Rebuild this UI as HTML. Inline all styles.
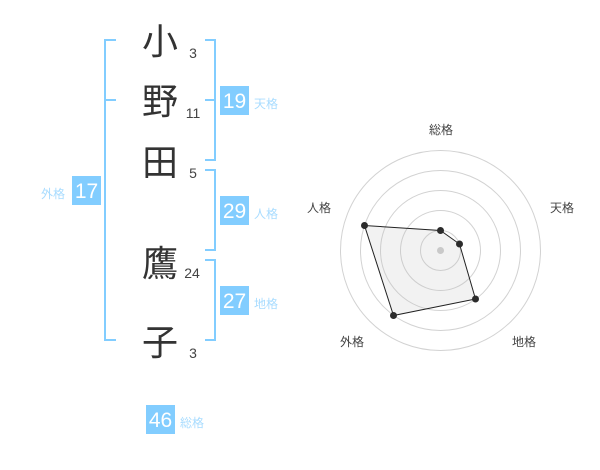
<!DOCTYPE html>
<html><head><meta charset="utf-8">
<style>
html,body{margin:0;padding:0;background:#fff;}
#p{position:relative;width:600px;height:470px;overflow:hidden;background:#fff;font-family:"Liberation Sans","Noto Sans CJK JP",sans-serif;}
.k{position:absolute;left:142px;width:36px;height:36px;font-size:36px;line-height:36px;text-align:center;color:#333;font-family:"Noto Sans CJK JP",sans-serif;}
.n{position:absolute;width:30px;text-align:center;font-size:14px;line-height:16px;color:#444;}
.b{position:absolute;width:29px;height:29px;background:#82cdff;color:#fff;font-size:21px;line-height:31px;text-align:center;}
.l{position:absolute;font-size:12px;line-height:14px;color:#a8dcff;font-family:"Liberation Sans","Noto Sans CJK JP",sans-serif;white-space:nowrap;}
svg{position:absolute;left:0;top:0;}
svg text{font-family:"Liberation Sans","Noto Sans CJK JP",sans-serif;font-size:12px;fill:#444;text-anchor:middle;}
</style></head><body><div id="p">
<svg width="600" height="470" viewBox="0 0 600 470">
<g fill="none" stroke="#82cdff" stroke-width="2">
<path d="M116 40H105V340H116M105 100H116"/>
<path d="M205 40H215V160H205M205 100H215"/>
<path d="M205 170H215V250H205"/>
<path d="M205 260H215V340H205"/>
</g>
<g fill="none" stroke="#d2d2d2" stroke-width="1">
<circle cx="440.5" cy="250.5" r="20"/>
<circle cx="440.5" cy="250.5" r="40"/>
<circle cx="440.5" cy="250.5" r="60"/>
<circle cx="440.5" cy="250.5" r="80"/>
<circle cx="440.5" cy="250.5" r="100"/>
</g>
<circle cx="440.5" cy="250.5" r="3.5" fill="#ccc"/>
<polygon points="440.5,230.5 459.5,244 475.5,299 393.5,315.5 364.5,225.5" fill="rgba(190,190,190,.2)" stroke="#222" stroke-width="1"/>
<g fill="#2b2b2b">
<circle cx="440.5" cy="230.5" r="3.5"/>
<circle cx="459.5" cy="244" r="3.5"/>
<circle cx="475.5" cy="299" r="3.5"/>
<circle cx="393.5" cy="315.5" r="3.5"/>
<circle cx="364.5" cy="225.5" r="3.5"/>
</g>
<text x="441" y="134">総格</text>
<text x="562" y="212">天格</text>
<text x="524" y="346">地格</text>
<text x="352" y="346">外格</text>
<text x="319" y="212">人格</text>
</svg>
<div class="k" style="top:21px">小</div>
<div class="k" style="top:81px">野</div>
<div class="k" style="top:142px">田</div>
<div class="k" style="top:243px">鷹</div>
<div class="k" style="top:322px">子</div>
<div class="n" style="left:178px;top:45px">3</div>
<div class="n" style="left:178px;top:105px">11</div>
<div class="n" style="left:178px;top:165px">5</div>
<div class="n" style="left:177px;top:265px">24</div>
<div class="n" style="left:178px;top:345px">3</div>
<div class="b" style="left:220px;top:86px">19</div>
<div class="b" style="left:220px;top:196px">29</div>
<div class="b" style="left:220px;top:286px">27</div>
<div class="b" style="left:72px;top:176px">17</div>
<div class="b" style="left:146px;top:405px">46</div>
<div class="l" style="left:254px;top:97px">天格</div>
<div class="l" style="left:254px;top:207px">人格</div>
<div class="l" style="left:254px;top:297px">地格</div>
<div class="l" style="left:41px;top:187px">外格</div>
<div class="l" style="left:180px;top:416px">総格</div>
</div></body></html>
